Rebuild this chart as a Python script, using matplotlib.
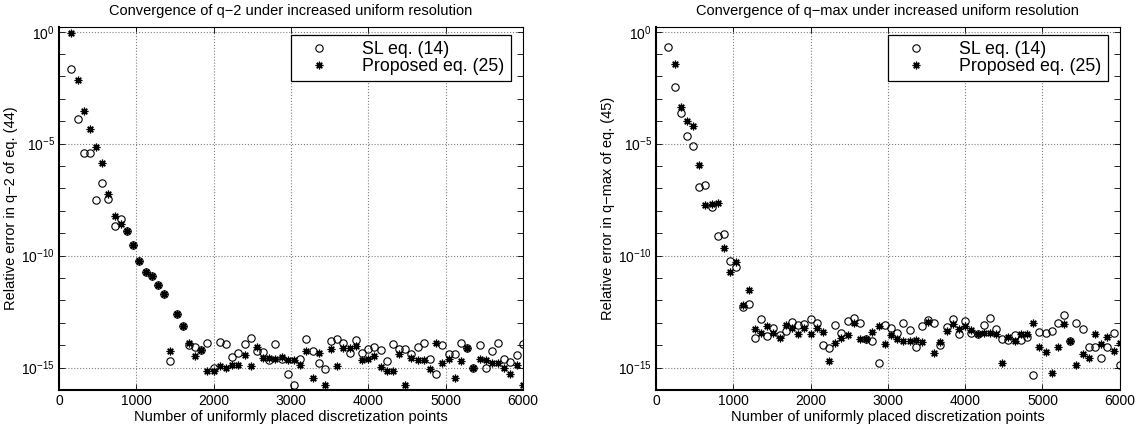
import numpy as np
import matplotlib
matplotlib.use('Agg')
import matplotlib.pyplot as plt
from matplotlib.ticker import FixedLocator, FixedFormatter, NullFormatter

plt.rcParams['font.family'] = ['Liberation Sans', 'DejaVu Sans']
plt.rcParams['mathtext.default'] = 'regular'

# number of uniformly placed discretization points
n_points = [160, 240, 320, 400, 480, 560, 640, 720, 800, 880, 960, 1040,
            1120, 1200, 1280, 1360, 1440, 1520, 1600, 1680, 1760, 1840, 1920, 2000,
            2080, 2160, 2240, 2320, 2400, 2480, 2560, 2640, 2720, 2800, 2880, 2960,
            3040, 3120, 3200, 3280, 3360, 3440, 3520, 3600, 3680, 3760, 3840, 3920,
            4000, 4080, 4160, 4240, 4320, 4400, 4480, 4560, 4640, 4720, 4800, 4880,
            4960, 5040, 5120, 5200, 5280, 5360, 5440, 5520, 5600, 5680, 5760, 5840,
            5920, 6000]

# log10 of the relative error
q2_sl = [-1.65, -3.89, -5.42, -5.42, -7.50, -6.77, -7.45, -8.66, -8.38, -8.90, -9.52, -10.24,
         -10.71, -10.92, -11.31, -11.73, -14.69, -12.60, -13.16, -14.00, -14.10, -14.22, -13.92, -15.00,
         -13.85, -13.93, -14.51, -14.33, -13.96, -13.66, -14.26, -14.30, -14.67, -13.96, -14.63, -15.30,
         -15.79, -14.63, -13.71, -14.26, -14.81, -15.04, -13.81, -13.74, -13.91, -14.36, -13.76, -14.36,
         -14.15, -14.06, -14.23, -14.70, -13.96, -14.18, -14.15, -14.39, -14.08, -13.91, -14.63, -15.28,
         -14.00, -14.37, -14.40, -13.91, -14.11, -15.00, -13.99, -15.00, -14.26, -13.90, -14.60, -14.73,
         -14.43, -13.93]
q2_proposed = [-0.05, -2.14, -3.53, -4.33, -5.13, -5.88, -7.24, -8.25, -8.59, -8.90, -9.52, -10.24,
               -10.71, -10.92, -11.31, -11.73, -14.27, -12.60, -13.16, -13.88, -14.48, -14.22, -15.15, -15.15,
               -14.93, -15.00, -14.88, -14.87, -14.43, -14.93, -14.08, -14.55, -14.57, -14.60, -14.52, -14.67,
               -14.66, -14.90, -14.26, -15.46, -14.36, -15.79, -14.18, -14.93, -14.14, -14.14, -14.03, -14.67,
               -14.60, -14.48, -14.99, -15.15, -15.15, -14.37, -15.77, -14.58, -14.66, -14.67, -15.04, -13.88,
               -14.81, -14.63, -15.46, -14.72, -14.11, -15.02, -14.60, -14.67, -14.78, -14.80, -15.00, -15.28,
               -14.90, -15.79]

qmax_sl = [-0.70, -2.45, -3.64, -4.65, -5.10, -6.95, -6.86, -7.85, -9.14, -9.03, -10.25, -10.49,
           -12.29, -12.18, -13.66, -12.85, -13.59, -13.22, -13.56, -13.37, -12.95, -13.11, -13.07, -12.85,
           -13.02, -14.00, -14.11, -13.11, -13.47, -12.92, -12.80, -12.99, -13.71, -13.81, -14.78, -13.10,
           -13.22, -13.47, -13.02, -13.32, -14.06, -13.14, -12.88, -13.02, -13.99, -13.17, -12.85, -13.51,
           -12.92, -13.44, -13.48, -13.11, -12.80, -13.29, -13.74, -13.77, -13.56, -13.77, -13.63, -15.34,
           -13.40, -13.44, -13.37, -13.00, -12.67, -13.81, -13.02, -13.26, -14.06, -14.06, -14.58, -14.08,
           -13.47, -14.88]
qmax_proposed = [np.nan, -1.46, -3.37, -3.97, -4.19, -5.97, -7.74, -7.70, -7.64, -9.66, -10.73, -10.28,
                 -12.22, -11.55, -13.26, -13.47, -13.14, -13.47, -13.66, -13.11, -13.22, -13.51, -13.22, -13.51,
                 -13.22, -13.40, -14.70, -13.89, -13.66, -13.56, -13.02, -13.74, -13.71, -13.41, -13.14, -13.93,
                 -13.54, -13.71, -13.81, -13.81, -13.77, -13.84, -12.96, -14.33, -13.86, -13.36, -13.07, -13.29,
                 -13.14, -13.34, -13.51, -13.44, -13.44, -13.51, -14.81, -13.63, -13.81, -13.51, -13.48, -13.02,
                 -14.06, -14.29, -15.22, -14.08, -13.07, -13.81, -14.88, -14.41, -14.55, -13.51, -13.96, -13.62,
                 -14.26, -13.92]

titles = ['Convergence of q\u22122 under increased uniform resolution',
          'Convergence of q\u2212max under increased uniform resolution']
ylabels = ['Relative error in q\u22122 of eq. (44)',
           'Relative error in q\u2212max of eq. (45)']
xlabel = 'Number of uniformly placed discretization points'
legend_labels = ['SL eq. (14)', 'Proposed eq. (25)']

fig = plt.figure(figsize=(11.48, 4.32), dpi=100)
ax1 = fig.add_axes([0.0514, 0.0972, 0.4040, 0.8403])
ax2 = fig.add_axes([0.5714, 0.0972, 0.4040, 0.8403])


def draw(ax, sl, prop, title, ylabel):
    x = np.array(n_points)
    ax.plot(x, 10.0 ** np.array(sl), linestyle='none', marker='o', markersize=5.3,
            markerfacecolor='none', markeredgecolor='black', markeredgewidth=0.8,
            label=legend_labels[0])
    ax.plot(x, 10.0 ** np.array(prop), linestyle='none', marker=(8, 2, 0), markersize=5.5,
            color='black', markeredgewidth=0.9, label=legend_labels[1])
    ax.set_yscale('log')
    ax.set_xlim(0, 6000)
    ax.set_ylim(1e-16, 10 ** 0.21)

    major = [10.0 ** e for e in (-15, -10, -5, 0)]
    ax.yaxis.set_major_locator(FixedLocator(major))
    ax.yaxis.set_major_formatter(FixedFormatter(['$10^{-15}$', '$10^{-10}$', '$10^{-5}$', '$10^{0}$']))
    ax.yaxis.set_minor_locator(FixedLocator([10.0 ** e for e in range(-16, 1)]))
    ax.yaxis.set_minor_formatter(NullFormatter())
    ax.set_xticks(range(0, 6001, 1000))

    ax.tick_params(which='both', direction='in', top=True, right=True, labelsize=10,
                   length=4, width=0.6, pad=3)
    ax.grid(True, which='major', linestyle=':', color='0.5', linewidth=0.8)
    for side, sp in ax.spines.items():
        sp.set_color('black')
        sp.set_linewidth(1.5 if side in ('left', 'bottom') else 0.8)

    ax.set_title(title, fontsize=10.5, pad=9)
    ax.set_xlabel(xlabel, fontsize=10.5, labelpad=1)
    ax.set_ylabel(ylabel, fontsize=10.5, labelpad=2)
    leg = ax.legend(loc='upper right', bbox_to_anchor=(1 - 12 / 464, 1 - 8 / 363),
                    borderaxespad=0, fontsize=12.8, fancybox=False, framealpha=1,
                    edgecolor='black', handlelength=2.4, handletextpad=1.25,
                    borderpad=0.35, labelspacing=0.0, numpoints=1)
    leg.get_frame().set_linewidth(0.9)


draw(ax1, q2_sl, q2_proposed, titles[0], ylabels[0])
draw(ax2, qmax_sl, qmax_proposed, titles[1], ylabels[1])

fig.savefig('out.png', dpi=100)
